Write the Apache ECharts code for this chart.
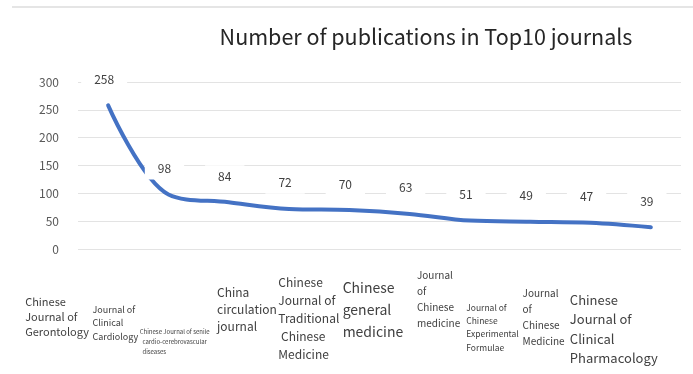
<!DOCTYPE html>
<html>
<head>
<meta charset="utf-8">
<script src="https://cdn.jsdelivr.net/npm/echarts@6/dist/echarts.min.js"></script>
<style>
  html, body { margin: 0; padding: 0; background: #fff; }
  #main { width: 693px; height: 374px; }
</style>
</head>
<body>
<div id="main"></div>
<script>
// journal names (line breaks as in the picture)
var journals = [
  'Chinese\nJournal of\nGerontology',
  'Journal of\nClinical\nCardiology',
  'Chinese Journal of senile\n  cardio-cerebrovascular\n  diseases',
  'China\ncirculation\njournal',
  'Chinese\nJournal of\nTraditional\n Chinese\nMedicine',
  'Chinese\ngeneral\nmedicine',
  'Journal\nof\nChinese\nmedicine',
  'Journal of\nChinese\nExperimental\nFormulae',
  'Journal\nof\nChinese\nMedicine',
  'Chinese\nJournal of\nClinical\nPharmacology'
];
var publications = [258, 98, 84, 72, 70, 63, 51, 49, 47, 39];
var yTicks = [0, 50, 100, 150, 200, 250, 300];

// label look per journal: font size, line height, padding [top, left]
var labelFont = [11, 9, 6, 12, 12, 14, 10, 8.5, 10, 13];
var labelLine = [15, 13.3, 10, 17, 18, 22, 16, 13.3, 16, 19.5];
var labelPadTop = [45, 54, 78, 35, 24, 28, 18, 52, 36, 41];
var labelPadLeft = [7, 14, 1, 18, 19, 23, 37, 26, 22, 9];

var chartDom = document.getElementById('main');
var myChart = echarts.init(chartDom, null, { renderer: 'canvas' });

var labelData = journals.map(function (name, i) {
  return {
    value: name,
    textStyle: {
      align: 'left',
      fontSize: labelFont[i],
      lineHeight: labelLine[i],
      padding: [labelPadTop[i], 0, 0, labelPadLeft[i]]
    }
  };
});

var option = {
  backgroundColor: '#fff',
  textStyle: { fontFamily: '"Noto Sans CJK SC", "Noto Sans", sans-serif' },
  title: {
    text: 'Number of publications in Top10 journals',
    left: 421,
    top: 21,
    textAlign: 'center',
    textStyle: { fontSize: 21.5, fontWeight: 'normal', color: '#262626' }
  },
  graphic: [{
    type: 'line',
    shape: { x1: 12, y1: 7, x2: 693, y2: 7 },
    style: { stroke: '#dcdcdc', lineWidth: 1.5 }
  }],
  grid: [
    { left: 78, right: 12, top: 82, bottom: 125, outerBoundsMode: 'none' },
    { left: -12, right: 102, top: 82, bottom: 125, outerBoundsMode: 'none' }
  ],
  xAxis: [
    {
      type: 'category',
      gridIndex: 0,
      data: journals,
      boundaryGap: true,
      axisLine: { show: false },
      axisTick: { show: false },
      axisLabel: { show: false }
    },
    {
      type: 'category',
      gridIndex: 1,
      data: labelData,
      boundaryGap: true,
      axisLine: { show: false },
      axisTick: { show: false },
      splitLine: { show: false },
      axisLabel: {
        interval: 0,
        margin: 0,
        align: 'left',
        color: '#404040',
        hideOverlap: false
      }
    }
  ],
  yAxis: [
    {
      type: 'value',
      gridIndex: 0,
      min: yTicks[0],
      max: yTicks[yTicks.length - 1],
      interval: 50,
      axisLine: { show: false },
      axisTick: { show: false },
      axisLabel: { margin: 19, fontSize: 12, color: '#595959' },
      splitLine: { lineStyle: { color: '#e3e3e3', width: 1.2 } }
    },
    {
      type: 'value',
      gridIndex: 1,
      show: false,
      min: 0,
      max: 300
    }
  ],
  series: [
    {
      type: 'line',
      xAxisIndex: 0,
      yAxisIndex: 0,
      data: publications,
      smooth: 0.35,
      showSymbol: true,
      symbol: 'circle',
      symbolSize: 0.1,
      lineStyle: { color: '#4472C4', width: 4, cap: 'round' },
      itemStyle: { color: '#4472C4' },
      label: {
        show: true,
        position: 'top',
        distance: 15,
        offset: [-4, 0],
        fontSize: 12,
        color: '#404040',
        backgroundColor: '#fff',
        padding: [5, 13]
      }
    }
  ]
};

option && myChart.setOption(option);
</script>
</body>
</html>
